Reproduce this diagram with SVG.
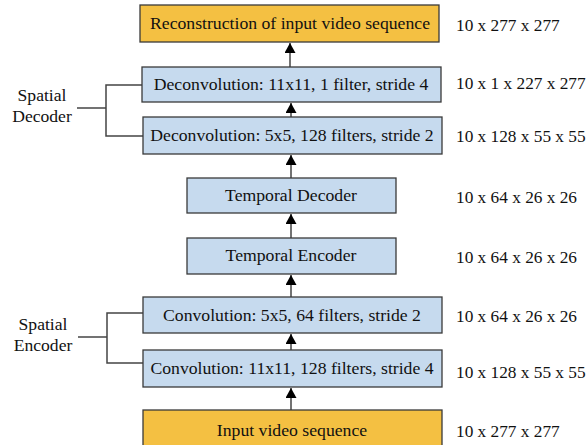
<svg xmlns="http://www.w3.org/2000/svg" width="588" height="445" viewBox="0 0 588 445">
<style>
text{font-family:"Liberation Serif","DejaVu Serif","Noto Serif",serif;font-size:17.7px;fill:#111}
.d{font-size:17.3px}
.s{font-size:17.6px}
.o{fill:#F4C042;stroke:#3a3a3a;stroke-width:1.3}
.b{fill:#C6DAEE;stroke:#3a3a3a;stroke-width:1.3}
.c{text-anchor:middle}
.ln{stroke:#444;stroke-width:1.5;fill:none}
.ar{stroke:#444;stroke-width:1.5;fill:none;marker-end:url(#ah)}
</style>
<defs>
<marker id="ah" viewBox="0 0 10 10" refX="10" refY="5" markerWidth="10" markerHeight="11" markerUnits="userSpaceOnUse" orient="auto" preserveAspectRatio="none"><path d="M0,0 L10,5 L0,10 z" fill="#000"/></marker>
</defs>
<rect width="588" height="445" fill="#fff"/>
<g id="connectors">
<line class="ar" x1="290" y1="67" x2="290" y2="43"/>
<line class="ar" x1="291" y1="117" x2="291" y2="103"/>
<line class="ar" x1="291" y1="178" x2="291" y2="155"/>
<line class="ar" x1="291" y1="238" x2="291" y2="214"/>
<line class="ar" x1="291" y1="297" x2="291" y2="275"/>
<line class="ar" x1="291" y1="350" x2="291" y2="334"/>
<line class="ar" x1="291" y1="410" x2="291" y2="388"/>
<polyline class="ln" points="142,85 106,85 106,136 143,136"/>
<line class="ln" x1="77" y1="108" x2="106" y2="108"/>
<polyline class="ln" points="143,313 107,313 107,363 143,363"/>
<line class="ln" x1="78" y1="337" x2="107" y2="337"/>
</g>
<g id="n_recon"><rect class="o" x="140" y="5" width="299" height="37"/><text class="c" x="290" y="29">Reconstruction of input video sequence</text></g>
<g id="n_deconv1"><rect class="b" x="142" y="67" width="299" height="35"/><text class="c" x="291" y="90">Deconvolution: 11x11, 1 filter, stride 4</text></g>
<g id="n_deconv2"><rect class="b" x="143" y="117" width="299" height="37"/><text class="c" x="292" y="141">Deconvolution: 5x5, 128 filters, stride 2</text></g>
<g id="n_tdec"><rect class="b" x="187" y="178" width="209" height="35"/><text class="c" x="291" y="201">Temporal Decoder</text></g>
<g id="n_tenc"><rect class="b" x="187" y="238" width="209" height="36"/><text class="c" x="291" y="261">Temporal Encoder</text></g>
<g id="n_conv2"><rect class="b" x="143" y="297" width="299" height="36"/><text class="c" x="292" y="321">Convolution: 5x5, 64 filters, stride 2</text></g>
<g id="n_conv1"><rect class="b" x="143" y="350" width="299" height="37"/><text class="c" x="292" y="374">Convolution: 11x11, 128 filters, stride 4</text></g>
<g id="n_input"><rect class="o" x="143" y="410" width="299" height="40"/><text class="c" x="292" y="436">Input video sequence</text></g>
<g id="lbl_sd"><text class="c s" x="42" y="101">Spatial</text><text class="c s" x="42" y="122">Decoder</text></g>
<g id="lbl_se"><text class="c s" x="43" y="330">Spatial</text><text class="c s" x="43" y="351">Encoder</text></g>
<g id="dims">
<text class="d" x="456" y="31">10 x 277 x 277</text>
<text class="d" x="456" y="89">10 x 1 x 227 x 277</text>
<text class="d" x="456" y="142">10 x 128 x 55 x 55</text>
<text class="d" x="456" y="203">10 x 64 x 26 x 26</text>
<text class="d" x="456" y="263">10 x 64 x 26 x 26</text>
<text class="d" x="456" y="322">10 x 64 x 26 x 26</text>
<text class="d" x="456" y="378">10 x 128 x 55 x 55</text>
<text class="d" x="456" y="437">10 x 277 x 277</text>
</g>
</svg>
